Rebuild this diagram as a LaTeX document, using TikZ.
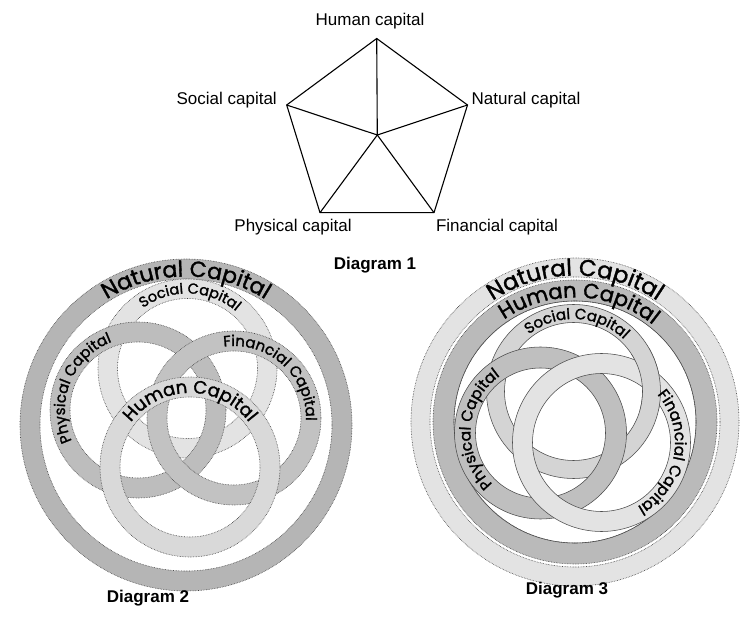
\documentclass[tikz,border=0pt]{standalone}
\usepackage{fontspec}
\setmainfont{Liberation Sans}
\newfontfamily\ringfont[FakeBold=1.5]{Poppins}
\usetikzlibrary{decorations.text}

\definecolor{nattwo}{gray}{0.71}
\definecolor{soctwo}{gray}{0.89}
\definecolor{phytwo}{gray}{0.74}
\definecolor{fintwo}{gray}{0.76}
\definecolor{humtwo}{gray}{0.85}
\definecolor{natthree}{gray}{0.89}
\definecolor{humthree}{gray}{0.73}
\definecolor{socthree}{gray}{0.83}
\definecolor{phythree}{gray}{0.75}
\definecolor{finthree}{gray}{0.89}

\tikzset{
  lbl/.style={inner sep=0pt, font=\fontsize{17}{20}\selectfont},
  dlbl/.style={inner sep=0pt, font=\fontsize{17}{20}\selectfont\bfseries},
  edgeline/.style={line width=1.1pt, black},
  dotline/.style={draw=black!75, line width=0.6pt, densely dotted},
  solidline/.style={draw=black!70, line width=0.55pt},
}

% #1 cx, #2 cy, #3 outer r, #4 inner r, #5 fill, #6 outline style
\newcommand\ringdraw[6]{%
  \fill[#5, even odd rule] (#1,#2) circle[radius=#3] (#1,#2) circle[radius=#4];
  \draw[#6] (#1,#2) circle[radius=#3];
  \draw[#6] (#1,#2) circle[radius=#4];
}
% #1 cx, #2 cy, #3 path radius, #4 centre angle, #5 font size, #6 text
\newcommand\ringlabel[6]{%
  \path[decorate, decoration={text along path, text align=center,
     text={|\ringfont\fontsize{#5}{#5}\selectfont|#6}}]
     ([shift={(#1,#2)}]{#4-90}:#3) arc[start angle=#4-90, end angle=#4+90, radius=#3];
}

\begin{document}
\begin{tikzpicture}[x=1pt,y=-1pt]
\path[use as bounding box, fill=white] (0,0) rectangle (740,631);

% ---------------- Diagram 1 ----------------
\coordinate (hc) at (376.7,38.5);
\coordinate (nc) at (467.5,105);
\coordinate (fc) at (434,212.7);
\coordinate (pc) at (320,212.7);
\coordinate (sc) at (286.7,105);
\coordinate (ctr) at (377.3,135);
\draw[edgeline, line join=miter] (hc) -- (nc) -- (fc) -- (pc) -- (sc) -- cycle;
\foreach \v in {hc,nc,fc,pc,sc} \draw[edgeline] (ctr) -- (\v);
\node[lbl] (hl) at (370,21.5) {Human capital};
\node[lbl, anchor=east] (sl) at (277,100) {Social capital};
\node[lbl, anchor=west] (nl) at (471.5,100) {Natural capital};
\node[lbl] (pl) at (293,227) {Physical capital};
\node[lbl] (fl) at (497,227) {Financial capital};
\node[dlbl] (d1) at (375,265) {Diagram 1};

% ---------------- Diagram 2 ----------------
\ringdraw{186}{425}{166}{146}{nattwo}{dotline}
\ringdraw{187.5}{368.5}{89.5}{70}{soctwo}{dotline}
\ringdraw{138}{410}{88}{68}{phytwo}{dotline}
\ringdraw{234}{418}{87}{67}{fintwo}{dotline}
\ringdraw{190}{467}{90}{70}{humtwo}{dotline}
\ringlabel{186}{425}{148.5}{270}{22}{Natural Capital}
\ringlabel{187.5}{368.5}{75}{272}{14.5}{Social Capital}
\ringlabel{138}{410}{73}{202}{15}{Physical Capital}
\ringlabel{234}{418}{72}{312}{15}{Financial Capital}
\ringlabel{190}{467}{74}{270}{18}{Human Capital}
\node[dlbl] (d2) at (148,598) {Diagram 2};

% ---------------- Diagram 3 ----------------
\ringdraw{575}{422}{164}{145}{natthree}{dotline}
\ringdraw{575}{422}{142}{121}{humthree}{dotline}
\draw[solidline] (575,422) circle[radius=121];
\ringdraw{573.5}{391.5}{87}{69}{socthree}{solidline}
\ringdraw{540.5}{433}{86}{65}{phythree}{solidline}
\ringdraw{601.5}{442.5}{89}{69}{finthree}{solidline}
\begin{scope}
  \clip (650,380) circle[radius=32];
  \ringdraw{573.5}{391.5}{87}{69}{socthree}{solidline}
\end{scope}
\ringlabel{575}{422}{146.5}{270}{23}{Natural Capital}
\ringlabel{575}{422}{124.5}{272}{21}{Human Capital}
\ringlabel{573.5}{391.5}{72.5}{273}{15}{Social Capital}
\ringlabel{540.5}{433}{70}{184}{15.5}{Physical Capital}
\ringlabel{601.5}{442.5}{73.5}{10}{15.5}{Financial Capital}
\node[dlbl] (d3) at (567,590) {Diagram 3};
\end{tikzpicture}
\end{document}
